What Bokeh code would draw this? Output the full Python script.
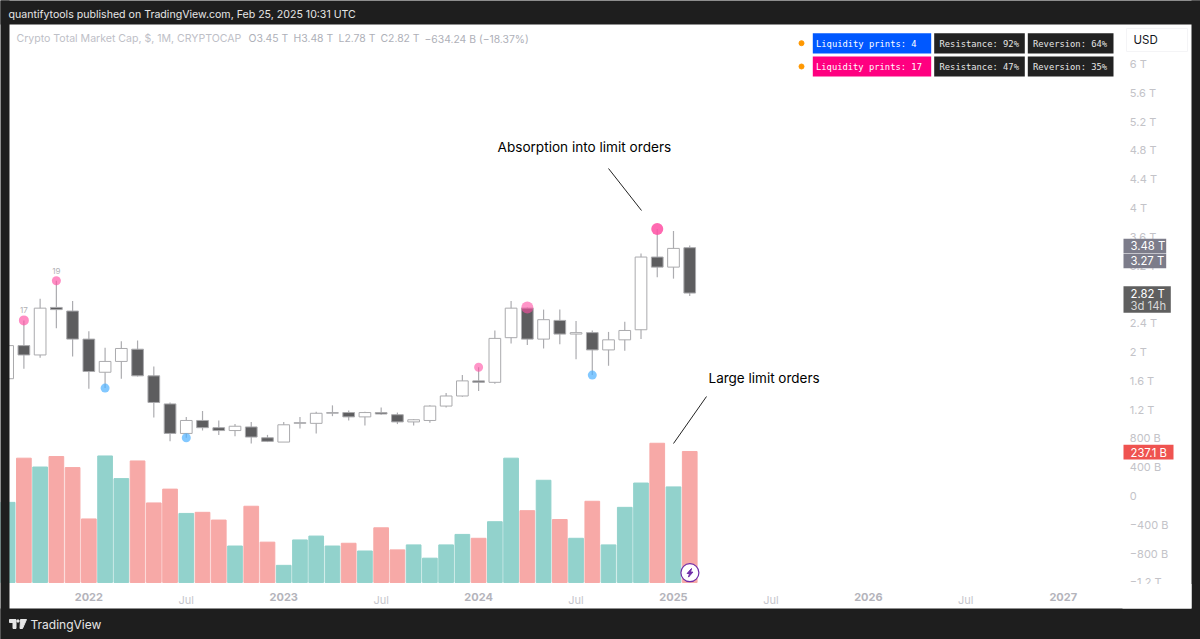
from bokeh.plotting import figure, ColumnDataSource
from bokeh.models import Range1d, LinearAxis, FixedTicker, Label
from bokeh.embed import file_html
from bokeh.resources import INLINE

months = ["2021-08","2021-09","2021-10","2021-11","2021-12",
          "2022-01","2022-02","2022-03","2022-04","2022-05","2022-06","2022-07","2022-08","2022-09","2022-10","2022-11","2022-12",
          "2023-01","2023-02","2023-03","2023-04","2023-05","2023-06","2023-07","2023-08","2023-09","2023-10","2023-11","2023-12",
          "2024-01","2024-02","2024-03","2024-04","2024-05","2024-06","2024-07","2024-08","2024-09","2024-10","2024-11","2024-12",
          "2025-01","2025-02"]
opens = [1.63,2.09,1.96,2.62,2.57,2.18,1.72,1.87,2.04,1.67,1.28,0.87,1.05,0.95,0.91,0.96,0.81,
         0.75,1.01,1.01,1.15,1.16,1.10,1.16,1.13,1.03,1.05,1.25,1.39,
         1.60,1.58,2.20,2.61,2.18,2.44,2.25,2.27,2.03,2.17,2.31,3.32,3.18,3.45]
highs = [2.16,2.44,2.74,2.99,2.71,2.29,2.06,2.15,2.16,1.80,1.30,1.10,1.18,1.05,1.00,1.03,0.85,
         1.03,1.10,1.17,1.26,1.19,1.17,1.23,1.16,1.07,1.26,1.43,1.68,
         1.79,2.30,2.71,2.62,2.59,2.59,2.43,2.30,2.28,2.42,3.37,3.71,3.68,3.48]
lows = [1.60,1.77,1.92,2.33,1.94,1.49,1.50,1.63,1.66,1.09,0.76,0.81,0.91,0.85,0.83,0.73,0.75,
        0.75,0.94,0.87,1.11,1.05,0.98,1.13,1.00,0.98,1.02,1.23,1.38,
        1.46,1.56,2.12,2.10,2.05,2.11,1.90,1.68,1.81,2.02,2.18,3.04,3.02,2.78]
closes = [2.09,1.96,2.61,2.59,2.18,1.73,1.87,2.05,1.67,1.30,0.87,1.05,0.95,0.91,0.97,0.82,0.76,
          0.99,1.02,1.15,1.16,1.10,1.16,1.14,1.03,1.06,1.25,1.39,1.60,
          1.58,2.19,2.61,2.18,2.45,2.25,2.27,2.03,2.17,2.30,3.32,3.18,3.44,2.82]
volumes = [145,225,209,228,208,115,229,188,220,144,169,125,127,113,66,138,73,
           31,77,84,66,71,57,99,59,68,44,68,87,
           80,110,225,130,185,114,80,147,68,136,180,252,173,237.1]
resistance_prints = ["2021-09","2021-11","2024-01","2024-04","2024-12"]
support_prints = ["2022-02","2022-07","2024-08"]
print_counts = {"2021-09": "17", "2021-11": "19"}
price_ticks = [-1.2,-0.8,-0.4,0,0.4,0.8,1.2,1.6,2,2.4,2.8,3.2,3.6,4,4.4,4.8,5.2,5.6,6]
price_tick_labels = ["\u22121.2 T","\u2212800 B","\u2212400 B","0","400 B","800 B","1.2 T","1.6 T","2 T","2.4 T","2.8 T","3.2 T","3.6 T","4 T","4.4 T","4.8 T","5.2 T","5.6 T","6 T"]
year_ticks = [0,12,24,36,48,60]
year_labels = ["2022","2023","2024","2025","2026","2027"]
jul_ticks = [6,18,30,42,54]

FONT = "Inter"
MONO = "DejaVu Sans Mono"
DARK = "#1e1e1e"

xs = [i - 5 for i in range(len(months))]
idx = dict(zip(months, xs))
up = [c >= o for o, c in zip(opens, closes)]
src = ColumnDataSource(dict(
    x=xs, open=opens, high=highs, low=lows, close=closes, vol=volumes,
    top=[max(o, c) for o, c in zip(opens, closes)],
    bottom=[min(o, c) for o, c in zip(opens, closes)],
    body=["#ffffff" if u else "#5d5d5f" for u in up],
    volc=["#92d2cc" if u else "#f7a9a7" for u in up],
))

p = figure(width=1200, height=639, output_backend="svg", toolbar_location=None,
           x_axis_type=None, y_axis_type=None,
           x_range=Range1d(-5.44, 68.451), y_range=Range1d(-1.992, 6.883),
           min_border_left=0, min_border_right=0, min_border_top=0, min_border_bottom=0,
           background_fill_color="#ffffff", border_fill_color=DARK, outline_line_color=None)
p.grid.visible = False
p.extra_y_ranges["vol"] = Range1d(-103.2, 1053.4)
p.extra_x_ranges["px"] = Range1d(0, 1200)
p.extra_y_ranges["py"] = Range1d(639, 0)

p.vbar(x="x", width=0.905, bottom=0, top="vol", color="volc", source=src, y_range_name="vol")
p.segment(x0="x", x1="x", y0="low", y1="high", line_color="#acacb0", line_width=1.2, source=src)
p.vbar(x="x", width=0.72, bottom="bottom", top="top", fill_color="body", line_color="#aaaaad", line_width=1, source=src)

rx = [idx[m] for m in resistance_prints]
ry = [highs[xs.index(idx[m])] for m in resistance_prints]
p.scatter(rx, ry, size=[10, 9, 9, 12, 12], color="#ff4fa3", alpha=[0.65, 0.65, 0.6, 0.6, 0.85], line_color=None)
sx = [idx[m] for m in support_prints]
sy = [lows[xs.index(idx[m])] for m in support_prints]
p.scatter(sx, sy, size=9, color="#4db0ff", alpha=0.7, line_color=None)
for m, t in print_counts.items():
    p.add_layout(Label(x=idx[m], y=highs[xs.index(idx[m])], text=t, y_offset=7, text_font=FONT, text_font_size="8px",
                       text_color="#b0b0b4", text_align="center", text_baseline="bottom"))

ya = LinearAxis(ticker=FixedTicker(ticks=price_ticks), fixed_location=63.73,
                major_label_overrides=dict(zip(price_ticks, price_tick_labels)), axis_line_color=None,
                major_tick_line_color=None, minor_tick_line_color=None, major_tick_out=0, major_tick_in=0,
                major_label_standoff=6, major_label_text_color="#c3c3c8",
                major_label_text_font=FONT, major_label_text_font_size="11px")
p.add_layout(ya, "right")

yrs = LinearAxis(ticker=FixedTicker(ticks=year_ticks), fixed_location=-1.21,
                 major_label_overrides=dict(zip(year_ticks, year_labels)), axis_line_color=None,
                 major_tick_line_color=None, minor_tick_line_color=None, major_tick_out=0, major_tick_in=0,
                 major_label_standoff=10, major_label_text_color="#b4b4bb",
                 major_label_text_font=FONT, major_label_text_font_size="11px", major_label_text_font_style="bold")
p.add_layout(yrs, "below")
juls = LinearAxis(ticker=FixedTicker(ticks=jul_ticks), fixed_location=-1.21,
                  major_label_overrides={t: "Jul" for t in jul_ticks}, axis_line_color=None,
                  major_tick_line_color=None, minor_tick_line_color=None, major_tick_out=0, major_tick_in=0,
                  major_label_standoff=10, major_label_text_color="#c6c6cc",
                  major_label_text_font=FONT, major_label_text_font_size="11px")
p.add_layout(juls, "below")

def box(l, r, t, b, color, line=None):
    p.quad(left=[l], right=[r], top=[t], bottom=[b], fill_color=color, line_color=line,
           x_range_name="px", y_range_name="py", level="annotation")

def note(x, y, text, size=12, color="#000000", font=FONT, style="normal", align="left"):
    p.add_layout(Label(x=x, y=y, text=text, x_range_name="px", y_range_name="py", level="overlay",
                       text_font=font, text_font_size=f"{size}px", text_color=color, text_font_style=style,
                       text_align=align, text_baseline="middle"))

# dark page frame and mask below the price pane
box(0, 1200, 0, 24, DARK)
box(0, 1200, 608, 639, DARK)
box(0, 9, 0, 639, DARK)
box(1191, 1200, 0, 639, DARK)
box(1122, 1191, 583.5, 608, "#ffffff")

# legend table
box(812.3, 930.7, 32.7, 53, "#0058ff")
box(933.7, 1024.3, 32.7, 53, "#222222")
box(1027.3, 1113, 32.7, 53, "#222222")
box(812.3, 930.7, 56, 76, "#ff0080")
box(933.7, 1024.3, 56, 76, "#222222")
box(1027.3, 1113, 56, 76, "#222222")
p.scatter([801, 801], [42.7, 66], size=5, color="#ff9800", x_range_name="px", y_range_name="py", level="annotation")
for y, a, b, c in [(43, "Liquidity prints: 4", "Resistance: 92%", "Reversion: 64%"),
                   (66, "Liquidity prints: 17", "Resistance: 47%", "Reversion: 35%")]:
    note(815.5, y, a, 8.8, "#ffffff", MONO)
    note(939, y, b, 8.8, "#e6e6e6", MONO)
    note(1032.5, y, c, 8.8, "#e6e6e6", MONO)

# USD button
box(1126, 1187, 28, 51, "#ffffff", "#f4f4f6")
note(1133, 39, "USD", 11.5, "#131722", FONT)

# price tags
box(1123, 1165.7, 238.3, 252.7, "#7c7c8a")
box(1123, 1165.7, 253.3, 267.7, "#7c7c8a")
box(1123, 1170.3, 285.7, 312.3, "#5f5f5f")
box(1123, 1173, 444.3, 459, "#ef5350")
note(1130, 245.5, "3.48 T", 11.3, "#ffffff")
note(1130, 260.5, "3.27 T", 11.3, "#ffffff")
note(1130, 293, "2.82 T", 11.3, "#ffffff")
note(1130, 305, "3d 14h", 11.3, "#d8d8d8")
note(1130, 452, "237.1 B", 11.3, "#ffffff")

# bolt badge
p.scatter([689.4], [572.2], size=18, fill_color="#ffffff", line_color="#6f2da8", line_width=1.2,
          x_range_name="px", y_range_name="py", level="annotation")
p.patch([691, 686.6, 689, 688, 692.4, 690], [568, 573, 573, 576.6, 571.6, 571.6], color="#6f2da8",
        x_range_name="px", y_range_name="py", level="annotation")

# call-outs
note(497, 146, "Absorption into limit orders", 13.6)
note(708, 377, "Large limit orders", 13.5)
p.segment([608, 706], [168, 396], [641, 673], [210, 443], line_color="#222222", line_width=1,
          x_range_name="px", y_range_name="py", level="annotation")

# header and symbol line
note(8, 14, "quantifytools published on TradingView.com, Feb 25, 2025 10:31 UTC", 10.6, "#e6e6e6")
note(16, 38, "Crypto Total Market Cap, $, 1M, CRYPTOCAP", 10.55, "#bec0c7")
note(248, 38, "O3.45 T", 10.4, "#aeb0b8")
note(293, 38, "H3.48 T", 10.4, "#aeb0b8")
note(338, 38, "L2.78 T", 10.4, "#aeb0b8")
note(380, 38, "C2.82 T", 10.4, "#aeb0b8")
note(424, 38, "\u2212634.24 B (\u221218.37%)", 10.35, "#aeb0b8")

# footer
note(30, 624, "TradingView", 12, "#e6e6e6")
for lx, ly in [([9, 15.5, 15.5, 12.5, 12.5, 9], [619, 619, 628, 628, 622, 622]),
               ([20, 26, 22, 19.5], [619, 619, 628, 628]),
               ([16.5, 18.5, 18.5, 16.5], [619.5, 619.5, 621.5, 621.5])]:
    p.patch(lx, ly, color="#e6e6e6", x_range_name="px", y_range_name="py", level="annotation")

open("out.html", "w").write(file_html(p, INLINE))
